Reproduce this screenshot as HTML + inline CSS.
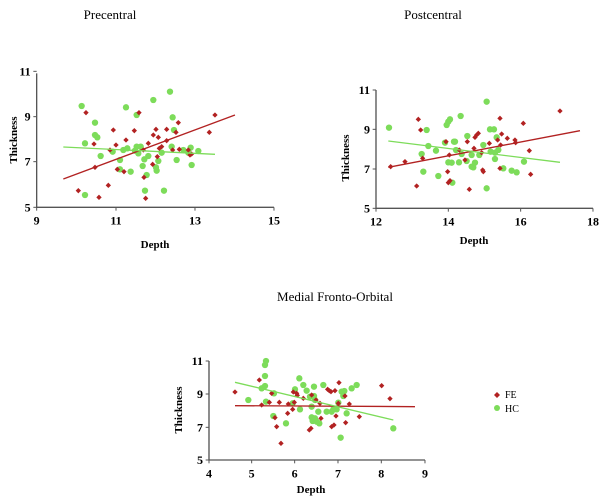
<!DOCTYPE html>
<html><head><meta charset="utf-8"><style>
html,body{margin:0;padding:0;background:#fff;width:600px;height:498px;overflow:hidden}
svg text{font-family:"Liberation Serif",serif;}
</style></head><body>
<svg id="s" width="600" height="498" xmlns="http://www.w3.org/2000/svg">
<g font-size="13" text-anchor="middle" fill="#000">
<text x="110" y="19">Precentral</text>
<text x="433" y="19">Postcentral</text>
<text x="335" y="301">Medial Fronto-Orbital</text>
</g>
<g id="g1" transform="translate(20,80) scale(0.3333)"></g>
<g id="g2" transform="translate(320,80) scale(0.3333)"></g>
<g id="g3" transform="translate(160,360) scale(0.3333)"></g>
<g font-size="11" font-weight="bold" text-anchor="middle">
<text x="155" y="248">Depth</text>
<text x="474" y="244">Depth</text>
<text x="311" y="493">Depth</text>
<text transform="translate(17,140) rotate(-90)">Thickness</text>
<text transform="translate(349,158) rotate(-90)">Thickness</text>
<text transform="translate(182,410) rotate(-90)">Thickness</text>
</g>
<g font-size="10">
<path d="M497,392 l3,3 -3,3 -3,-3z" fill="#b22222"/><text x="505" y="398">FE</text>
<circle cx="497" cy="408" r="3" fill="#7ddc5a"/><text x="505" y="412">HC</text>
</g>
</svg>
<script>
var NS="http://www.w3.org/2000/svg";
function el(g,t,a){var e=document.createElementNS(NS,t);for(var k in a)e.setAttribute(k,a[k]);g.appendChild(e);return e;}
function chart(id,ax,ay,xend,ytop,xt,yt,red,green,rl,gl){
 var g=document.getElementById(id);
 el(g,"path",{d:"M"+ax+","+ytop+"V"+ay+"H"+xend,stroke:"#555","stroke-width":4,fill:"none"});
 xt.forEach(function(t){el(g,"path",{d:"M"+t[0]+","+ay+"v10",stroke:"#555","stroke-width":3});
  var tx=el(g,"text",{x:t[0],y:ay+52,"font-size":36,"font-weight":"bold","text-anchor":"middle"});tx.textContent=t[1];});
 yt.forEach(function(t){el(g,"path",{d:"M"+ax+","+t[0]+"h-10",stroke:"#555","stroke-width":3});
  var tx=el(g,"text",{x:ax-18,y:t[0]+12,"font-size":36,"font-weight":"bold","text-anchor":"end"});tx.textContent=t[1];});
 green.forEach(function(p){el(g,"circle",{cx:p[0],cy:p[1],r:9.5,fill:"#7ddc5a"});});
 red.forEach(function(p){el(g,"path",{d:"M"+p[0]+","+(p[1]-8)+"l8,8 -8,8 -8,-8z",fill:"#b22222"});});
 el(g,"line",{x1:rl[0],y1:rl[1],x2:rl[2],y2:rl[3],stroke:"#b22222","stroke-width":4});
 el(g,"line",{x1:gl[0],y1:gl[1],x2:gl[2],y2:gl[3],stroke:"#7ddc5a","stroke-width":4});
}
chart("g1",50,382,762,-20,[[50,9],[288,11],[525,13],[762,15]],[[-26,11],[110,9],[245,7],[382,5]],
[[175,332],[198,98],[222,192],[225,262],[237,352],[265,316],[270,210],[280,150],[288,195],[292,268],[312,275],[318,180],[343,152],[357,98],[370,210],[372,292],[377,355],[385,190],[398,253],[400,165],[408,148],[412,230],[415,172],[418,205],[425,200],[440,148],[440,182],[458,210],[468,157],[475,128],[478,208],[505,210],[510,225],[515,222],[568,157],[585,105]],
[[185,78],[195,190],[195,345],[225,128],[225,165],[232,172],[242,228],[278,215],[300,240],[300,268],[310,210],[318,82],[322,205],[332,275],[345,212],[350,105],[350,200],[355,220],[362,200],[368,258],[373,238],[375,332],[380,285],[385,228],[400,60],[408,262],[410,272],[415,243],[425,218],[432,332],[450,35],[455,200],[458,112],[462,150],[470,240],[490,210],[505,218],[512,203],[515,255],[535,213]],
[130,297,645,105],[130,201,585,223]);
chart("g2",168,385,819,30,[[168,12],[385,14],[602,16],[819,18]],[[30,11],[148,9],[267,7],[385,5]],
[[212,260],[255,245],[290,318],[295,118],[302,150],[308,235],[383,275],[385,308],[390,302],[388,225],[378,185],[418,210],[435,240],[442,185],[448,328],[462,205],[465,172],[470,165],[475,160],[485,218],[488,270],[490,275],[508,190],[533,180],[540,115],[542,195],[545,162],[540,265],[562,175],[585,180],[587,188],[610,130],[628,212],[632,283],[720,93]],
[[207,143],[305,222],[310,275],[320,150],[325,198],[348,212],[355,288],[375,188],[380,135],[385,125],[385,247],[390,118],[395,248],[397,308],[402,185],[405,185],[408,210],[417,247],[422,108],[425,222],[440,243],[442,168],[455,225],[455,260],[460,262],[465,248],[478,225],[490,195],[500,65],[500,325],[510,148],[512,215],[522,148],[525,218],[525,237],[530,172],[535,210],[550,265],[575,272],[590,277],[612,245]],
[205,262,780,152],[205,183,720,247]);
chart("g3",147,300,795,3,[[147,4],[275,5],[404,6],[534,7],[664,8],[795,9]],[[3,11],[102,9],[202,7],[300,5]],
[[225,96],[298,60],[305,135],[328,127],[335,100],[345,173],[350,200],[358,127],[383,160],[385,132],[363,250],[398,148],[400,96],[403,127],[410,100],[412,106],[430,115],[448,210],[453,205],[455,105],[468,120],[480,130],[483,175],[503,88],[508,92],[513,95],[515,200],[522,195],[525,92],[528,168],[535,130],[537,68],[555,108],[557,188],[568,132],[598,170],[665,77],[690,116]],
[[265,120],[305,85],[315,48],[315,15],[318,3],[315,78],[318,125],[340,168],[342,100],[378,190],[398,130],[405,88],[418,55],[420,148],[430,75],[440,92],[450,110],[455,140],[455,172],[458,183],[462,80],[462,108],[465,120],[465,175],[470,185],[475,155],[478,190],[490,75],[500,155],[515,155],[520,148],[530,148],[535,128],[542,233],[545,95],[550,108],[553,93],[560,160],[575,85],[590,75],[700,205]],
[225,137,765,140],[225,67,700,180]);
</script>
</body></html>
